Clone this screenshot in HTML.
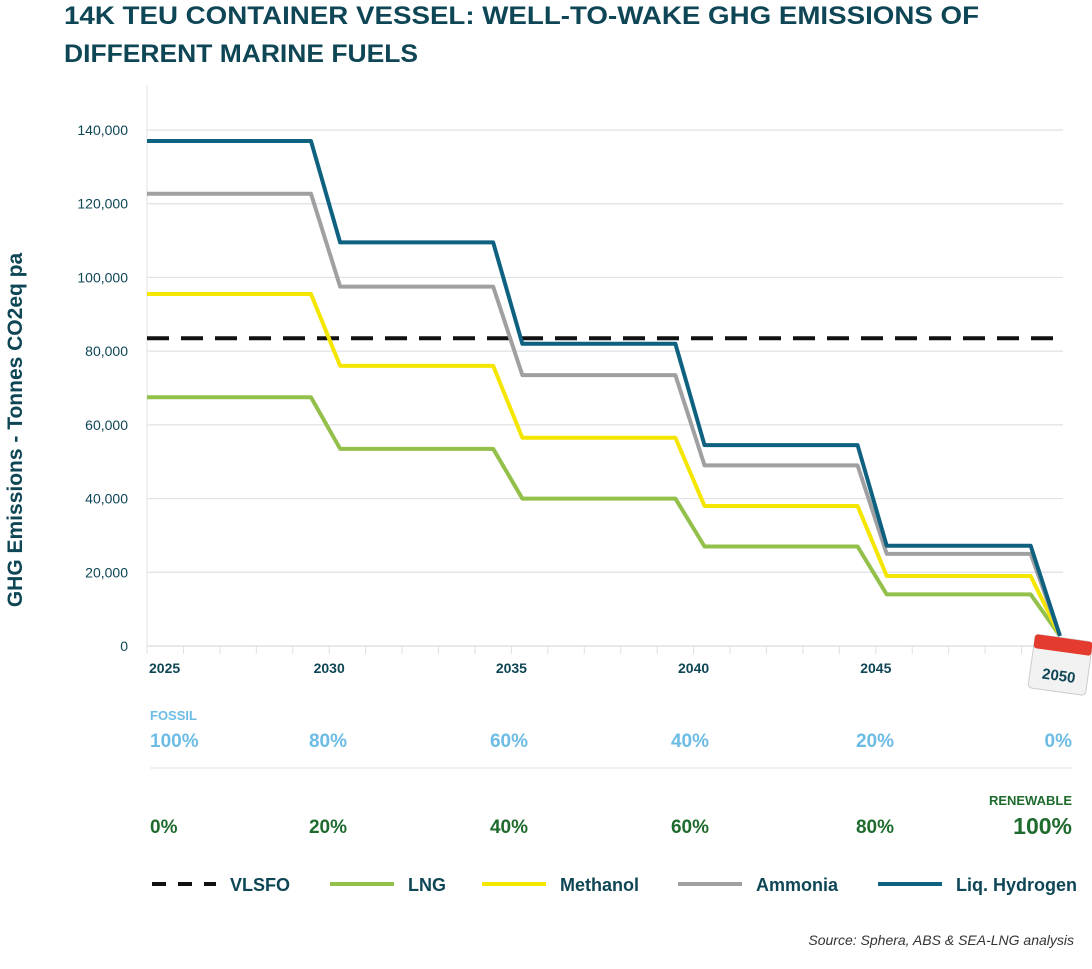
<!DOCTYPE html>
<html><head><meta charset="utf-8"><style>
body{margin:0;background:#fff;width:1092px;height:964px;overflow:hidden;font-family:"Liberation Sans",sans-serif}
svg text{font-family:"Liberation Sans",sans-serif}
</style></head><body>
<svg id="chart" width="1092" height="964">
<text x="64" y="24" font-size="25" font-weight="bold" fill="#0e4656" textLength="915" lengthAdjust="spacingAndGlyphs">14K TEU CONTAINER VESSEL: WELL-TO-WAKE GHG EMISSIONS OF</text>
<text x="64" y="62" font-size="25" font-weight="bold" fill="#0e4656" textLength="354" lengthAdjust="spacingAndGlyphs">DIFFERENT MARINE FUELS</text>
<text transform="translate(22,430) rotate(-90)" text-anchor="middle" font-size="21" font-weight="bold" fill="#0e4656">GHG Emissions - Tonnes CO2eq pa</text>
<g id="grid"></g><g id="lines"></g>
<text x="150" y="720" font-size="13" font-weight="bold" fill="#6cbce6">FOSSIL</text>
<line x1="150" y1="768" x2="1072" y2="768" stroke="#e3e3e3"/>
<text x="1072" y="805" text-anchor="end" font-size="13" font-weight="bold" fill="#1f6b2e">RENEWABLE</text>
<g id="mix"></g><g id="legend"></g>
<text x="1074" y="945" text-anchor="end" font-size="14" font-style="italic" fill="#333">Source: Sphera, ABS &amp; SEA-LNG analysis</text>
<g transform="translate(1062,660) rotate(8)">
<rect x="-30" y="-22" width="58" height="54" rx="4" fill="#f2f2f2" stroke="#ccc"/>
<rect x="-30" y="-22" width="58" height="14" rx="3" fill="#e53a2e"/>
<text x="-1" y="21" text-anchor="middle" font-size="15" font-weight="bold" fill="#0e4656">2050</text>
</g>
</svg>
<script>
const years=[2025,2030,2035,2040,2045,2050];
const yTicks=[0,20000,40000,60000,80000,100000,120000,140000];
const vlsfo=83500;
const lng=[67500,53500,40000,27000,14000,0];
const methanol=[95500,76000,56500,38000,19000,0];
const ammonia=[122700,97500,73500,49000,25000,0];
const hydrogen=[137000,109500,82000,54500,27200,0];
const fossilPct=["100%","80%","60%","40%","20%","0%"];
const renewPct=["0%","20%","40%","60%","80%","100%"];
const NS="http://www.w3.org/2000/svg";
const X=y=>147+(y-2025)*(1058-147)/25;
const Y=v=>646-v*(516/140000);
function mk(p,tag,at,txt){const e=document.createElementNS(NS,tag);for(const k in at)e.setAttribute(k,at[k]);if(txt!==undefined)e.textContent=txt;p.appendChild(e);return e;}
const g=document.getElementById('grid');
yTicks.forEach(t=>{
 if(t>0){const l=mk(g,'line',{x1:147,x2:1063,y1:Y(t),y2:Y(t),stroke:'#dde0e6','stroke-width':1.2});
 
 }
 const tx=mk(g,'text',{x:128,y:Y(t)+5,'text-anchor':'end','font-size':14,fill:'#0e4656'},t.toLocaleString('en-US'));
 
 
});
const ax=mk(g,'line',{x1:147,x2:147,y1:85,y2:646,stroke:'#e0e0e0'});


const xa=mk(g,'line',{x1:147,x2:1058,y1:646,y2:646,stroke:'#e0e0e0','stroke-width':1.5});


for(let y=2025;y<2050;y++){const tk=mk(g,'line',{x1:X(y),x2:X(y),y1:646,y2:654,stroke:'#e0e0e0'});

}
years.slice(0,5).forEach(y=>{const t=mk(g,'text',{x:X(y)+(y==2025?2:0),y:673,'text-anchor':y==2025?'start':'middle','font-size':14,'font-weight':'bold',fill:'#0e4656'},y);

});
const L=document.getElementById('lines');
const dl=mk(L,'line',{x1:147,x2:1063,y1:Y(vlsfo),y2:Y(vlsfo),stroke:'#111','stroke-width':4,'stroke-dasharray':'22,12'});


function path(vals){let d='';vals.forEach((v,i)=>{const y=years[i];
 if(i==0)d+='M'+X(y)+','+Y(v);
 else if(i<vals.length-1)d+=' L'+X(y+0.3)+','+Y(v);
 else d+=' L'+(X(y)+2)+','+(Y(v)-10);
 if(i<vals.length-1)d+=' L'+X(y+(i==vals.length-2?4.25:4.5))+','+Y(v);});return d;}
[[lng,'#92c04a','lng-line'],[methanol,'#f4e600','methanol-line'],[ammonia,'#a0a0a3','ammonia-line'],[hydrogen,'#0f6180','hydrogen-line']].forEach(s=>{
 const p=mk(L,'path',{d:path(s[0]),fill:'none',stroke:s[1],'stroke-width':4,'stroke-linejoin':'round'});
 
 
});
const M=document.getElementById('mix');
const mx=[150,328,509,690,875,1072];
fossilPct.forEach((p,i)=>{const t=mk(M,'text',{x:mx[i],y:747,'text-anchor':i==0?'start':(i==5?'end':'middle'),'font-size':19,'font-weight':'bold',fill:'#6cbce6'},p);

});
renewPct.forEach((p,i)=>{const t=mk(M,'text',{x:mx[i],y:i==5?834:833,'text-anchor':i==0?'start':(i==5?'end':'middle'),'font-size':i==5?23:19,'font-weight':'bold',fill:'#1f6b2e'},p);

});
const G=document.getElementById('legend');
[['VLSFO','#111',152,true],['LNG','#92c04a',330],['Methanol','#f4e600',482],['Ammonia','#a0a0a3',678],['Liq. Hydrogen','#0f6180',878]].forEach(e=>{
 const l=mk(G,'line',{x1:e[2],x2:e[2]+64,y1:884,y2:884,stroke:e[1],'stroke-width':4});
 if(e[3])l.setAttribute('stroke-dasharray','14,12');
 
 
 const t=mk(G,'text',{x:e[2]+78,y:891,'font-size':18,'font-weight':'bold',fill:'#0e4656'},e[0]);
 
 
});
</script>
</body></html>
